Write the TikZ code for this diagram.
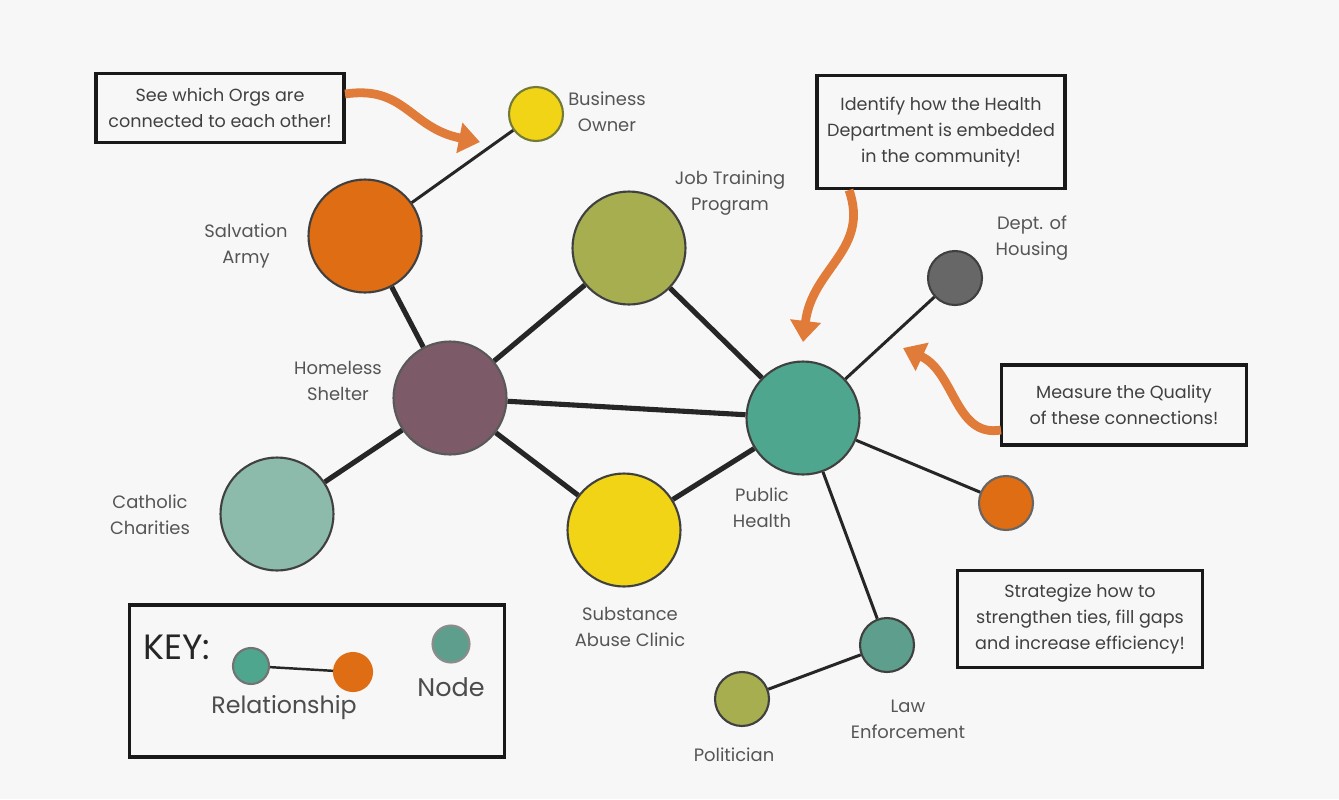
\documentclass[tikz,border=0pt]{standalone}
\usepackage{fontspec}
\setmainfont{Poppins}
\usetikzlibrary{arrows.meta}
\definecolor{bgc}{HTML}{F7F7F7}
\definecolor{cOrange}{HTML}{DF6D14}
\definecolor{cYellow}{HTML}{F1D416}
\definecolor{cOlive}{HTML}{A6AE4F}
\definecolor{cMauve}{HTML}{7D5A68}
\definecolor{cTeal}{HTML}{4FA68E}
\definecolor{cLTeal}{HTML}{8CBBAC}
\definecolor{cGray}{HTML}{676767}
\definecolor{cLaw}{HTML}{5E9E8C}
\definecolor{cArrow}{HTML}{E07B39}
\definecolor{cText}{HTML}{555555}
\tikzset{
  orgnode/.style={circle, draw=black!75, line width=1.2pt, inner sep=0pt},
  bignode/.style={orgnode, minimum size=2.26cm},
  smallnode/.style={orgnode, minimum size=1.08cm},
  lbl/.style={text=cText, font=\fontsize{10.2}{15}\selectfont, align=center, inner sep=0pt},
  note/.style={draw=black!90, line width=2.2pt, fill=bgc, align=center, font=\fontsize{10}{15}\selectfont, text=black!75, inner sep=0pt},
  tie/.style={line width=2.9pt, draw=black!85},
  thintie/.style={line width=1.7pt, draw=black!85},
  oarrow/.style={line width=5pt, draw=cArrow, -{Triangle[width=17pt,length=12pt]}},
}
\begin{document}
\begin{tikzpicture}[x=0.02cm, y=-0.02cm]
\fill[bgc] (0,0) rectangle (1339,799);
\useasboundingbox (0,0) rectangle (1339,799);

% nodes
\node[smallnode, fill=cYellow, draw=cOlive!70!black] (bus) at (536,114) {};
\node[bignode, fill=cOrange] (sal) at (365,236) {};
\node[bignode, fill=cOlive] (job) at (629,248) {};
\node[bignode, fill=cMauve, draw=black!65] (hom) at (450,398) {};
\node[bignode, fill=cTeal] (pub) at (803,418) {};
\node[smallnode, fill=cGray] (dep) at (955,278) {};
\node[bignode, fill=cLTeal] (cat) at (277,514) {};
\node[bignode, fill=cYellow] (sub) at (624,530) {};
\node[smallnode, fill=cOrange, draw=black!60] (org) at (1006,503) {};
\node[smallnode, fill=cLaw] (law) at (887,645) {};
\node[smallnode, fill=cOlive] (pol) at (742,699) {};

% ties
\draw[thintie] (bus) -- (sal);
\draw[tie] (sal) -- (hom);
\draw[tie] (hom) -- (job);
\draw[tie] (hom) -- (pub);
\draw[tie] (hom) -- (cat);
\draw[tie] (hom) -- (sub);
\draw[tie] (job) -- (pub);
\draw[tie] (sub) -- (pub);
\draw[thintie] (pub) -- (dep);
\draw[thintie] (pub) -- (org);
\draw[thintie] (pub) -- (law);
\draw[thintie] (law) -- (pol);

% labels
\node[lbl] (lbus) at (607,112) {Business\\Owner};
\node[lbl] (ljob) at (730,193) {Job Training\\Program};
\node[lbl] (lsal) at (246,246) {Salvation\\Army};
\node[lbl] (lhom) at (338,381) {Homeless\\Shelter};
\node[lbl] (ldep) at (1032,238) {Dept. of\\Housing};
\node[lbl] (lcat) at (150,515) {Catholic\\Charities};
\node[lbl] (lpub) at (762,508) {Public\\Health};
\node[lbl] (lsub) at (630,627) {Substance\\Abuse Clinic};
\node[lbl] (llaw) at (908,719) {Law\\Enforcement};
\node[lbl] (lpol) at (734,755) {Politician};

% notes
\node[note, minimum width=4.95cm, minimum height=1.38cm] (n1) at (220,108) {See which Orgs are\\connected to each other!};
\node[note, minimum width=4.95cm, minimum height=2.26cm] (n2) at (941,132) {Identify how the Health\\Department is embedded\\in the community!};
\node[note, minimum width=4.9cm, minimum height=1.6cm] (n3) at (1124,405) {Measure the Quality\\of these connections!};
\node[note, minimum width=4.9cm, minimum height=1.94cm] (n4) at (1080,619) {Strategize how to\\strengthen ties, fill gaps\\and increase efficiency!};

% orange arrows
\coordinate (a1s) at (345,94);
\coordinate (a1e) at (480,142);
\draw[oarrow] (a1s) .. controls (405,85) and (410,128) .. (a1e);
\coordinate (a2s) at (849,190);
\coordinate (a2e) at (803,342);
\draw[oarrow] (a2s) .. controls (870,250) and (812,268) .. (a2e);
\coordinate (a3s) at (1001,430);
\coordinate (a3e) at (903,348);
\draw[oarrow] (a3s) .. controls (955,438) and (955,372) .. (a3e);

% key
\node[draw=black!90, line width=2.2pt, minimum width=7.5cm, minimum height=3.04cm, inner sep=0pt] (key) at (317,681) {};
\node[anchor=west, font=\fontsize{20}{22}\selectfont, text=black!85, inner sep=0pt] (keyt) at (143,647) {KEY:};
\node[orgnode, minimum size=0.72cm, fill=cTeal, draw=black!55] (kA) at (251,666) {};
\node[orgnode, minimum size=0.76cm, fill=cOrange, draw=cOrange] (kB) at (353,672) {};
\draw[line width=1.4pt, black!85] (kA) -- (kB);
\node[font=\fontsize{13.5}{16}\selectfont, text=black!70, inner sep=0pt] (krel) at (284,708) {Relationship};
\node[orgnode, minimum size=0.74cm, fill=cLaw, draw=black!45] (kN) at (451,644) {};
\node[font=\fontsize{14.5}{16}\selectfont, text=black!70, inner sep=0pt] (knode) at (451,687) {Node};
\end{tikzpicture}
\end{document}
